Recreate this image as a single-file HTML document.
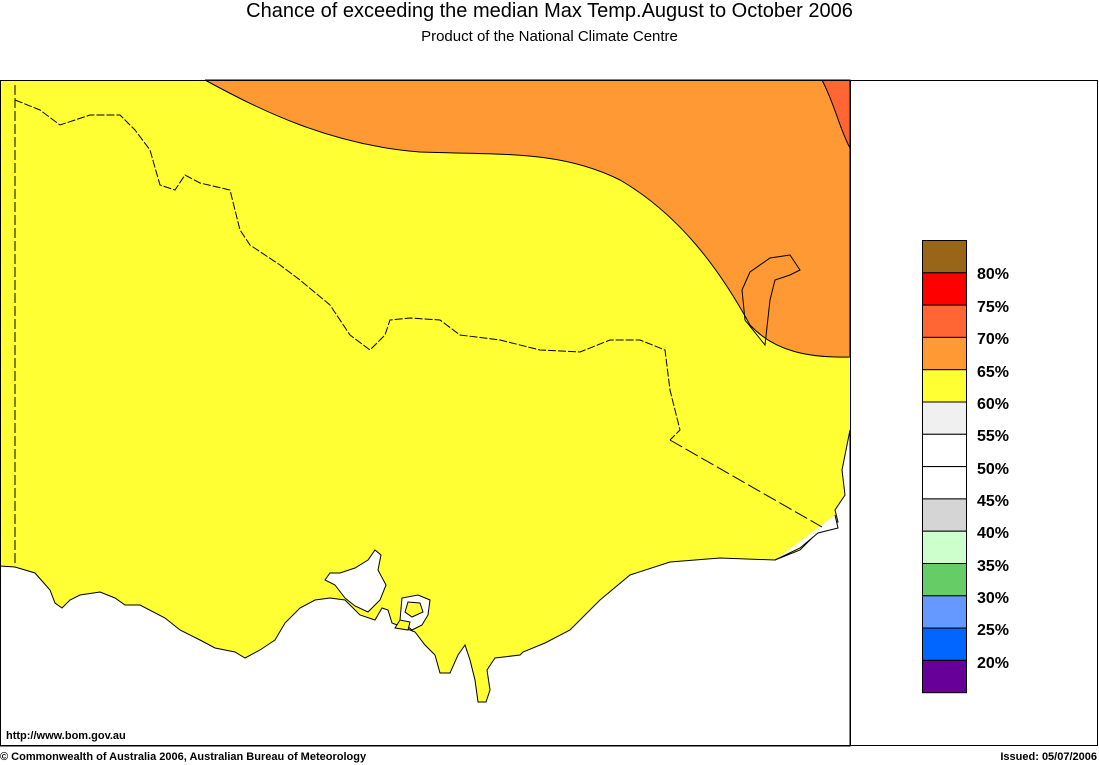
<!DOCTYPE html>
<html><head><meta charset="utf-8"><style>
body{margin:0;background:#fff;width:1099px;height:765px;overflow:hidden;font-family:"Liberation Sans",sans-serif}
.t{position:absolute;left:0;width:1099px;text-align:center;color:#000}
.lb{position:absolute;left:977px;font-size:16px;font-weight:bold}
.sm{position:absolute;font-size:11px;font-weight:bold}
</style></head><body>
<div class="t" style="top:0;font-size:20px">Chance of exceeding the median Max Temp.August to October 2006</div>
<div class="t" style="top:28px;font-size:15px">Product of the National Climate Centre</div>
<svg width="1099" height="765" style="position:absolute;left:0;top:0">
<rect x="0" y="80" width="850" height="666" fill="#ffff33"/>
<path d="M205,80 C260,110 330,145 420,152 C500,155 560,150 620,180 C680,215 720,270 750,325 C775,352 810,358 850,357 L850,80Z" fill="#ff9933" stroke="#000" stroke-width="1"/>
<path d="M822,80 L850,80 L850,148 C840,130 835,105 822,80Z" fill="#ff6633" stroke="#000" stroke-width="1"/>
<path d="M765,345 L770,300 L775,280 L790,275 L800,270 L790,255 L770,258 L750,272 L742,290 L745,320 Z" fill="none" stroke="#000" stroke-width="1"/>
<path d="M0,566 L15,567 L35,573 L50,590 L55,603 L62,608 L70,600 L80,595 L100,592 L115,598 L125,605 L140,605 L165,618 L180,630 L200,640 L215,648 L235,652 L245,658 L260,650 L275,640 L285,623 L300,608 L315,600 L330,598 L345,600 L360,615 L375,620 L382,608 L388,610 L392,623 L405,628 L415,632 L425,645 L435,655 L440,673 L450,673 L458,655 L465,645 L470,660 L475,680 L478,702 L486,702 L490,690 L487,670 L495,658 L520,655 L523,652 L545,643 L570,630 L600,600 L630,575 L670,562 L720,558 L775,560 L800,550 L820,530 L838,522 L835,510 L845,495 L842,470 L850,430 L850,746 L0,746Z" fill="#fff" stroke="#000" stroke-width="1"/>
<path d="M345,598 L335,585 L325,580 L330,573 L340,573 L355,568 L368,560 L375,550 L381,555 L378,570 L386,585 L380,600 L368,612 L355,606Z" fill="#fff" stroke="#000" stroke-width="1"/>
<path d="M400,620 L402,598 L418,595 L430,600 L428,615 L422,625 L412,630Z M405,612 L408,602 L420,603 L423,612 L412,617Z" fill="#fff" stroke="#000" stroke-width="1" fill-rule="evenodd"/>
<path d="M395,628 L400,620 L410,622 L408,630Z" fill="#ffff33" stroke="#000" stroke-width="1"/>
<path d="M775,560 L800,548 L818,533 L838,528 L835,515" fill="#fff" stroke="#000"/>
<line x1="15" y1="85" x2="15" y2="565" stroke="#000" stroke-dasharray="10,3"/>
<path d="M15,100 L40,110 L60,125 L75,120 L90,115 L120,115 L135,130 L150,150 L160,185 L175,190 L185,175 L200,183 L230,190 L240,230 L250,245 L280,265 L300,280 L330,305 L350,335 L370,350 L385,335 L390,320 L410,318 L440,320 L460,335 L500,340 L540,350 L580,352 L610,340 L640,340 L665,350 L670,390 L680,430 L670,440" fill="none" stroke="#000" stroke-dasharray="8,2"/>
<line x1="670" y1="440" x2="822" y2="527" stroke="#000" stroke-dasharray="14,4"/>
<rect x="0.5" y="80.5" width="1097" height="665" fill="none" stroke="#000"/>
<line x1="850.5" y1="80" x2="850.5" y2="746" stroke="#000"/>
<g stroke="#000" stroke-width="1">
<rect x="922.5" y="240.5" width="44" height="32.3" fill="#996619"/>
<rect x="922.5" y="272.8" width="44" height="32.3" fill="#ff0000"/>
<rect x="922.5" y="305.1" width="44" height="32.3" fill="#ff6633"/>
<rect x="922.5" y="337.4" width="44" height="32.3" fill="#ff9933"/>
<rect x="922.5" y="369.7" width="44" height="32.3" fill="#ffff33"/>
<rect x="922.5" y="402" width="44" height="32.3" fill="#f0f0f0"/>
<rect x="922.5" y="434.3" width="44" height="32.3" fill="#fff"/>
<rect x="922.5" y="466.6" width="44" height="32.3" fill="#fff"/>
<rect x="922.5" y="498.9" width="44" height="32.3" fill="#d5d5d5"/>
<rect x="922.5" y="531.2" width="44" height="32.3" fill="#ccffcc"/>
<rect x="922.5" y="563.5" width="44" height="32.3" fill="#66cc66"/>
<rect x="922.5" y="595.8" width="44" height="32.3" fill="#6699ff"/>
<rect x="922.5" y="628.1" width="44" height="32.3" fill="#0066ff"/>
<rect x="922.5" y="660.4" width="44" height="32.3" fill="#660099"/>
</g>
</svg>
<div class="lb" style="top:266px">80%</div>
<div class="lb" style="top:299px">75%</div>
<div class="lb" style="top:331px">70%</div>
<div class="lb" style="top:364px">65%</div>
<div class="lb" style="top:396px">60%</div>
<div class="lb" style="top:428px">55%</div>
<div class="lb" style="top:461px">50%</div>
<div class="lb" style="top:493px">45%</div>
<div class="lb" style="top:525px">40%</div>
<div class="lb" style="top:558px">35%</div>
<div class="lb" style="top:590px">30%</div>
<div class="lb" style="top:622px">25%</div>
<div class="lb" style="top:655px">20%</div>
<div class="sm" style="left:6px;top:730px">http://www.bom.gov.au</div>
<div class="sm" style="left:0;top:751px">© Commonwealth of Australia 2006, Australian Bureau of Meteorology</div>
<div class="sm" style="right:2px;top:751px">Issued: 05/07/2006</div>
</body></html>
